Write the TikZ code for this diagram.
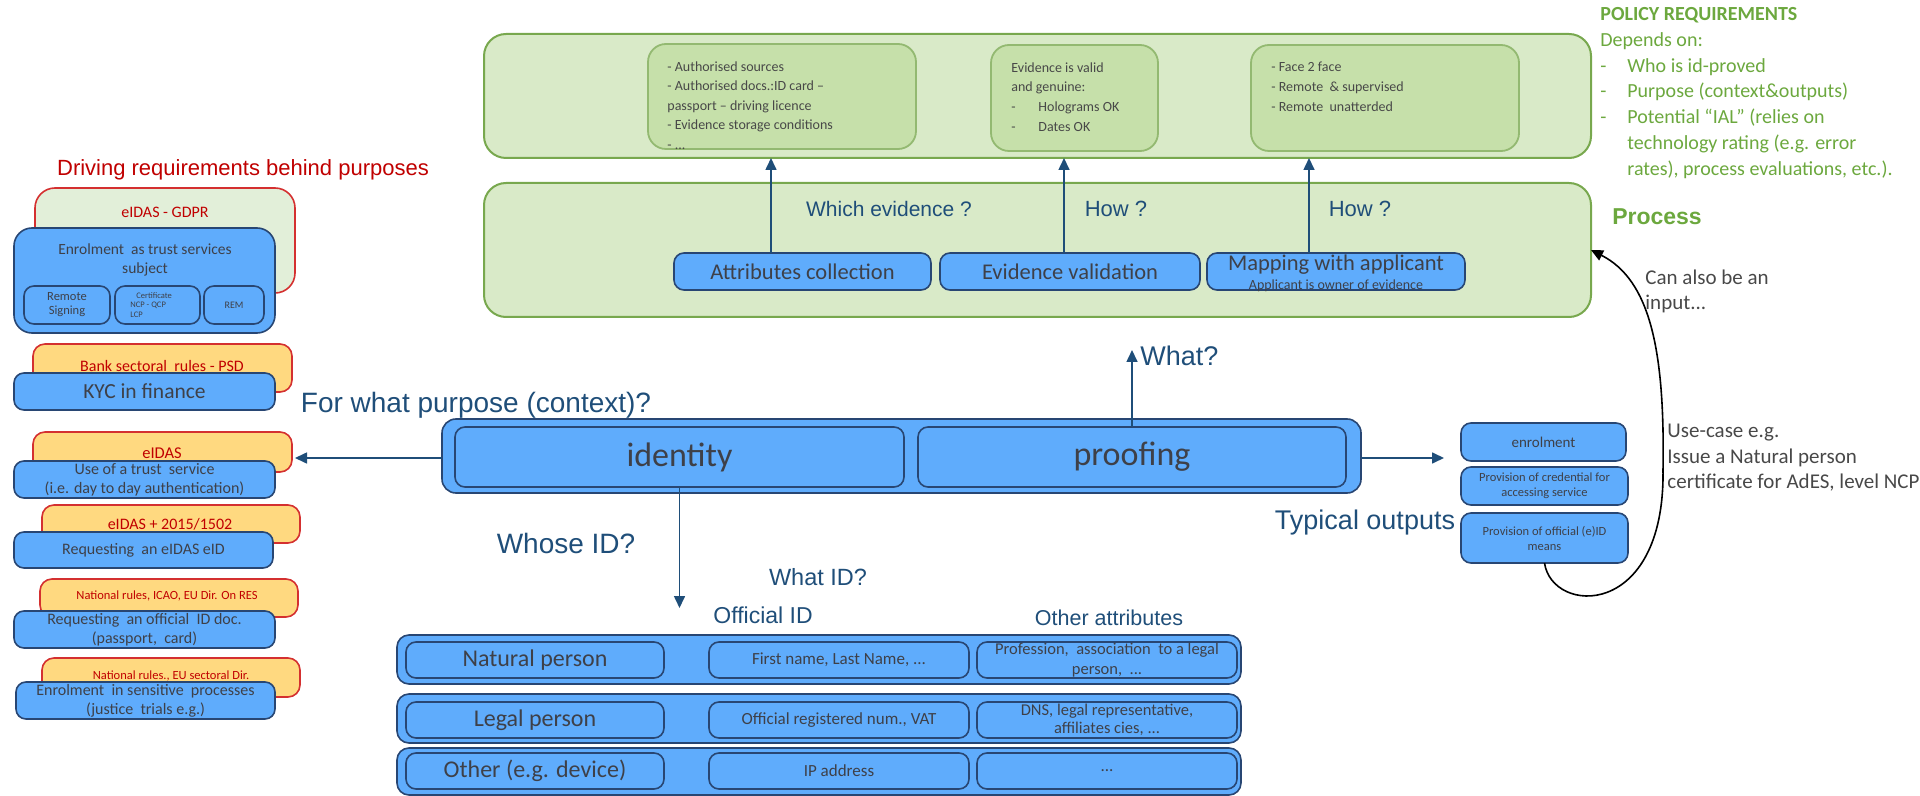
\documentclass[tikz,border=0pt]{standalone}
\usepackage{fontspec}
\setmainfont{Carlito}
\newfontfamily\arialf{Liberation Sans}
\usetikzlibrary{arrows.meta,calc}

\definecolor{bfill}{RGB}{95,172,252}
\definecolor{bline}{RGB}{40,70,115}
\definecolor{btext}{RGB}{62,64,72}
\definecolor{lblue}{RGB}{31,78,121}
\definecolor{gfill}{RGB}{217,234,200}
\definecolor{gfilltwo}{RGB}{198,224,170}
\definecolor{gline}{RGB}{120,168,78}
\definecolor{gtext}{RGB}{108,168,62}
\definecolor{yfill}{RGB}{255,217,128}
\definecolor{rline}{RGB}{212,48,48}
\definecolor{rtext}{RGB}{192,0,0}
\definecolor{lgfill}{RGB}{226,239,217}
\definecolor{gray}{RGB}{72,72,72}

\newcommand\fsz[2]{\fontsize{#1}{#2}\selectfont}
% box given by its corners in pixel units: [options]{name}{x1}{y1}{x2}{y2}{text}
\newcommand\bx[7][]{%
  \pgfmathsetmacro\bxX{(#3+#5)/2}%
  \pgfmathsetmacro\bxY{(#4+#6)/2}%
  \pgfmathsetmacro\bxW{(#5-#3)/2}%
  \pgfmathsetmacro\bxH{(#6-#4)/2}%
  \node[#1,minimum width=\bxW pt,minimum height=\bxH pt,inner sep=0pt,outer sep=0pt] (#2) at (\bxX,\bxY) {#7};%
}

\begin{document}
\begin{tikzpicture}[x=0.5pt,y=-0.5pt,
  bluebox/.style={draw=bline,fill=bfill,line width=0.8pt,rounded corners=5pt,text=btext,align=center},
  ybox/.style={draw=rline,fill=yfill,line width=0.8pt,rounded corners=6pt},
  gbox/.style={draw=gline,fill=gfill,line width=1pt,rounded corners=11pt},
  gibox/.style={draw=gline!80,fill=gfilltwo,line width=0.9pt,rounded corners=9pt},
  rtxt/.style={text=rtext,inner sep=0pt},
  dtxt/.style={text=btext,inner sep=0pt,align=center},
  lbl/.style={text=lblue,inner sep=0pt},
  arrb/.style={draw=lblue,line width=0.8pt,-{Triangle[length=6pt,width=5.5pt]}},
]
\useasboundingbox (0,0) rectangle (1920,796);

% ---------- policy requirements ----------
\bx[gbox]{PT}{484}{34}{1591}{158}{}
\bx[gibox]{G1}{648}{44}{916}{149}{}
\bx[gibox]{G2}{991}{45}{1158}{151}{}
\bx[gibox]{G3}{1251}{45}{1519}{151}{}
\node[text=gray,inner sep=0pt,anchor=west,align=left,font=\fsz{7}{9.75}] (G1t) at (667,105.5)
  {- Authorised sources\\- Authorised docs.:ID card --\\passport -- driving licence\\- Evidence storage conditions\\- ...};
\node[text=gray,inner sep=0pt,anchor=west,align=left,font=\fsz{7}{9.85}] (G2t) at (1011,97)
  {Evidence is valid\\and genuine:\\\makebox[13.5pt][l]{-}Holograms OK\\\makebox[13.5pt][l]{-}Dates OK};
\node[text=gray,inner sep=0pt,anchor=west,align=left,font=\fsz{7}{10}] (G3t) at (1271,87)
  {- Face 2 face\\- Remote \ \& supervised\\- Remote \ unatterded};

\node[text=gtext,inner sep=0pt,anchor=west,align=left,font=\fsz{10}{12.9}] (pol) at (1600,93)
  {\textbf{POLICY REQUIREMENTS}\\Depends on:\\\makebox[13.5pt][l]{-}Who is id-proved\\\makebox[13.5pt][l]{-}Purpose (context\&outputs)\\\makebox[13.5pt][l]{-}Potential “IAL” (relies on\\\hspace*{13.5pt}technology rating (e.g. error\\\hspace*{13.5pt}rates), process evaluations, etc.).};

% ---------- process ----------
\bx[gbox]{PB}{484}{183}{1591}{317}{}
\node[text=gtext,inner sep=0pt,font=\arialf\bfseries\fsz{11.5}{13}] (proc) at (1657,217) {Process};
\bx[bluebox,font=\fsz{11.25}{13}]{B1}{674}{253}{931}{290}{Attributes collection}
\bx[bluebox,font=\fsz{11.25}{13}]{B2}{940}{253}{1200}{290}{Evidence validation}
\bx[bluebox]{B3}{1207}{253}{1465}{290}{}
\node[dtxt,font=\fsz{11.25}{13}] (B3a) at (1336,265) {Mapping with applicant};
\node[dtxt,font=\fsz{7}{8}] (B3b) at (1336,286) {Applicant is owner of evidence};

\coordinate (a1) at ([xshift=-15.75pt]B1.north);
\coordinate (a2) at ([xshift=-3pt]B2.north);
\coordinate (a3) at ([xshift=-13.5pt]B3.north);
\draw[arrb] (a1) -- (a1 |- PT.south);
\draw[arrb] (a2) -- (a2 |- PT.south);
\draw[arrb] (a3) -- (a3 |- PT.south);
\node[lbl,font=\arialf\fsz{10.5}{12}] (q1) at (889,209) {Which evidence ?};
\node[lbl,font=\arialf\fsz{11}{12}] (q2) at (1116,209) {How ?};
\node[lbl,font=\arialf\fsz{11}{12}] (q3) at (1360,209) {How ?};

% ---------- driving requirements ----------
\node[rtxt,font=\arialf\fsz{11}{13}] (title) at (243,170) {Driving requirements behind purposes};

\bx[draw=rline,fill=lgfill,line width=0.8pt,rounded corners=10pt]{L1}{35}{188}{295}{293}{}
\node[rtxt,font=\fsz{8}{9}] (L1t) at (165,212) {eIDAS - GDPR};
\bx[bluebox,rounded corners=9pt]{L2}{14}{228}{275}{333}{}
\node[dtxt,font=\fsz{7.75}{9.5}] (L2t) at (145,260) {Enrolment \ as trust services\\subject};
\bx[bluebox,font=\fsz{6.25}{7}]{L2a}{24}{286}{110}{324}{Remote\\Signing}
\bx[bluebox]{L2b}{115}{286}{200}{324}{}
\node[text=btext,inner sep=0pt,anchor=west,align=left,font=\fsz{4.25}{4.75}] (L2bt) at (130,305) {\hspace*{3pt}Certificate\\NCP - QCP\\LCP};
\bx[bluebox,font=\fsz{5}{6}]{L2c}{204}{286}{264}{324}{REM}

\bx[ybox]{L3}{33}{344}{292}{392}{}
\node[rtxt,font=\fsz{8}{9}] (L3t) at (162,366) {Bank sectoral \ rules - PSD};
\bx[bluebox,font=\fsz{10.75}{12}]{L4}{14}{373}{275}{410}{KYC in finance}

\bx[ybox]{L5}{33}{432}{292}{472}{}
\node[rtxt,font=\fsz{8.25}{9}] (L5t) at (162,453) {eIDAS};
\bx[bluebox,font=\fsz{8}{9.5}]{L6}{14}{461}{275}{498}{Use of a trust \ service\\(i.e. day to day authentication)}

\bx[ybox]{L7}{42}{505}{300}{543}{}
\node[rtxt,font=\fsz{8}{9}] (L7t) at (170,524) {eIDAS + 2015/1502};
\bx[bluebox,font=\fsz{8}{9.5}]{L8}{14}{532}{273}{568}{Requesting \ an eIDAS eID}

\bx[ybox]{L9}{40}{579}{298}{617}{}
\node[rtxt,font=\fsz{6.25}{7}] (L9t) at (167,596) {National rules, ICAO, EU Dir. On RES};
\bx[bluebox,font=\fsz{8}{9.5}]{L10}{14}{611}{275}{648}{Requesting \ an official \ ID doc.\\(passport, \ card)}

\bx[ybox]{L11}{42}{658}{300}{697}{}
\node[rtxt,font=\fsz{6.25}{7}] (L11t) at (171,676) {National rules., EU sectoral Dir.};
\bx[bluebox,font=\fsz{8}{9.5}]{L12}{16}{682}{275}{719}{Enrolment \ in sensitive \ processes\\(justice \ trials e.g.)}

% ---------- identity proofing ----------
\bx[bluebox,rounded corners=7pt]{BB}{442}{419}{1361}{493}{}
\bx[bluebox,font=\fsz{17}{19}]{ID}{455}{427}{904}{487}{identity}
\bx[bluebox,font=\fsz{17}{19}]{PR}{918}{427}{1346}{487}{proofing}

\node[lbl,font=\arialf\fsz{14}{16}] (purp) at (476,405) {For what purpose (context)?};
\coordinate (leftend) at (295,458);
\draw[arrb] (BB.west |- leftend) -- (leftend);

\coordinate (whattip) at (PR.north |- 0,350);
\draw[arrb] (PR.north) -- (whattip);
\node[lbl,anchor=west,font=\arialf\fsz{13.5}{15}] (what) at (1140,356) {What?};

\coordinate (downend) at (ID.south |- 0,608);
\draw[arrb] (ID.south) -- (downend);
\node[lbl,font=\arialf\fsz{14}{16}] (whose) at (566,543) {Whose ID?};
\node[lbl,font=\arialf\fsz{11.75}{13}] (whatid) at (818,577) {What ID?};
\node[lbl,font=\arialf\fsz{11.5}{13}] (offid) at (763,615) {Official ID};
\node[lbl,font=\arialf\fsz{10.75}{12}] (othatt) at (1109,618) {Other attributes};

\coordinate (rightend) at (1444,458);
\draw[arrb] (BB.east |- rightend) -- (rightend);
\node[lbl,font=\arialf\fsz{13.5}{15}] (typ) at (1365,523) {Typical outputs};

% ---------- typical outputs ----------
\bx[bluebox,font=\fsz{7.5}{9}]{O1}{1461}{423}{1626}{461}{enrolment}
\bx[bluebox,font=\fsz{6.25}{7.5}]{O2}{1461}{467}{1628}{505}{Provision of credential for\\accessing service}
\bx[bluebox,font=\fsz{6.25}{7.5}]{O3}{1461}{513}{1628}{563}{Provision of official (e)ID\\means}

\draw[line width=0.8pt,-{Triangle[length=6pt,width=5.5pt]}] (O3.south)
  .. controls (1552,615) and (1665,620) .. (1663,470)
  .. controls (1665,350) and (1650,280) .. (PB.east);
\node[text=gray,inner sep=0pt,anchor=west,align=left,font=\fsz{10.5}{12.5}] (canalso) at (1645,291) {Can also be an\\input...};
\node[text=gray,inner sep=0pt,anchor=west,align=left,font=\fsz{10.5}{12.75}] (usecase) at (1667,458) {Use-case e.g.\\Issue a Natural person\\certificate for AdES, level NCP};

% ---------- identity kinds ----------
\bx[bluebox,rounded corners=6pt]{R1}{397}{635}{1241}{684}{}
\bx[bluebox,font=\fsz{12}{14}]{R1a}{406}{642}{664}{678}{Natural person}
\bx[bluebox,font=\fsz{8.5}{10}]{R1b}{709}{642}{969}{678}{First name, Last Name, ...}
\bx[bluebox,font=\fsz{8.25}{10}]{R1c}{977}{642}{1237}{678}{Profession, \ association \ to a legal\\person, \ ...}

\bx[bluebox,rounded corners=6pt]{R2}{397}{694}{1241}{743}{}
\bx[bluebox,font=\fsz{12}{14}]{R2a}{406}{702}{664}{738}{Legal person}
\bx[bluebox,font=\fsz{8.5}{10}]{R2b}{709}{702}{969}{738}{Official registered num., VAT}
\bx[bluebox,font=\fsz{8.25}{9.25}]{R2c}{977}{702}{1237}{738}{DNS, legal representative,\\affiliates cies, ...}

\bx[bluebox,rounded corners=6pt]{R3}{397}{748}{1241}{795}{}
\bx[bluebox,font=\fsz{12}{14}]{R3a}{406}{753}{664}{789}{Other (e.g. device)}
\bx[bluebox,font=\fsz{8.5}{10}]{R3b}{709}{753}{969}{789}{IP address}
\bx[bluebox,font=\fsz{8.5}{10}]{R3c}{977}{753}{1237}{789}{...}

\end{tikzpicture}
\end{document}
